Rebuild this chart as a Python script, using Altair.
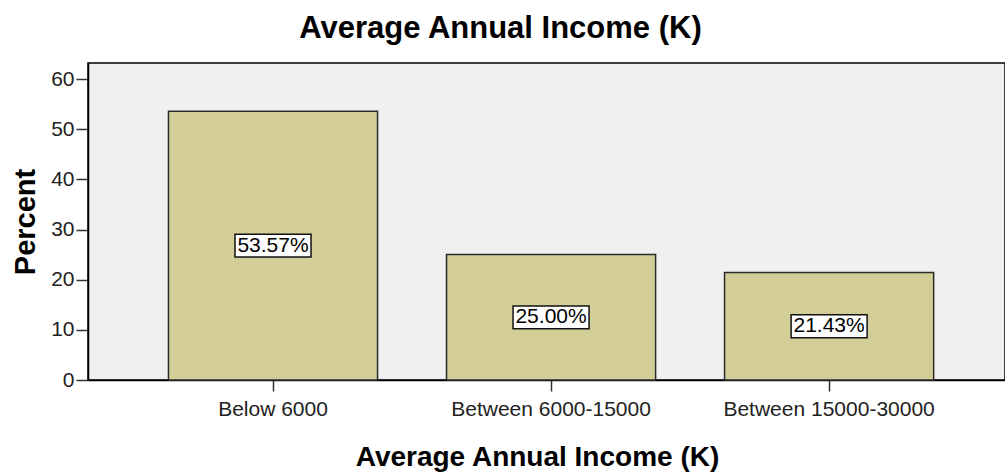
import altair as alt
import pandas as pd

categories = ["Below 6000", "Between 6000-15000", "Between 15000-30000"]
percents = [53.57, 25.00, 21.43]
labels = ["53.57%", "25.00%", "21.43%"]

df = pd.DataFrame({"cat": categories, "pct": percents, "label": labels})
df["mid"] = df["pct"] / 2

FONT = "Liberation Sans"

x_enc = alt.X(
    "cat:N",
    sort=categories,
    scale=alt.Scale(paddingInner=0.248, paddingOuter=0.273, align=0.53),
    axis=alt.Axis(
        title="Average Annual Income (K)",
        titleFont=FONT, titleFontSize=28, titleFontWeight="bold", titleColor="black",
        titlePadding=24, titleX=449,
        labelFont=FONT, labelFontSize=21, labelColor="#222", labelAngle=0, labelPadding=7,
        labelLimit=400,
        domainColor="black", domainWidth=1.5, tickColor="#333", tickSize=11, tickWidth=1.5,
    ),
)

bars = alt.Chart(df).mark_bar(
    color="#d3ce97", stroke="#2a2a2a", strokeWidth=1.5
).encode(
    x=x_enc,
    y=alt.Y(
        "pct:Q",
        scale=alt.Scale(domain=[0, 63.2], nice=False),
        axis=alt.Axis(
            title="Percent", values=[0, 10, 20, 30, 40, 50, 60],
            titleFont=FONT, titleFontSize=29, titleFontWeight="bold", titleColor="black",
            titlePadding=10,
            labelFont=FONT, labelFontSize=21, labelColor="#222", labelPadding=2,
            domainColor="black", domainWidth=1.5, tickColor="#333", tickSize=12, tickWidth=1.5,
            grid=False,
        ),
    ),
)

boxes = alt.Chart(df).mark_point(
    shape="M-1,-0.3L1,-0.3L1,0.3L-1,0.3Z", filled=True, fill="white",
    stroke="#111", strokeWidth=1.5, size=5776, opacity=1
).encode(x=alt.X("cat:N", sort=categories), y="mid:Q")

texts = alt.Chart(df).mark_text(
    font=FONT, fontSize=21, color="black", baseline="middle"
).encode(x=alt.X("cat:N", sort=categories), y="mid:Q", text="label:N")

chart = alt.layer(bars, boxes, texts).properties(
    width=917, height=317,
    title=alt.TitleParams(
        "Average Annual Income (K)", font=FONT, fontSize=31, fontWeight="bold",
        color="black", anchor="middle", dx=-46, dy=31, offset=18, baseline="bottom",
    ),
    autosize=alt.AutoSizeParams(type="none"),
    padding={"left": 88, "top": 63, "right": 0, "bottom": 96},
    background="white",
).configure_view(
    fill="#f0f0f0", stroke="black", strokeWidth=1.5
)

chart.save("out.html", embed_options={"renderer": "svg", "actions": False})
